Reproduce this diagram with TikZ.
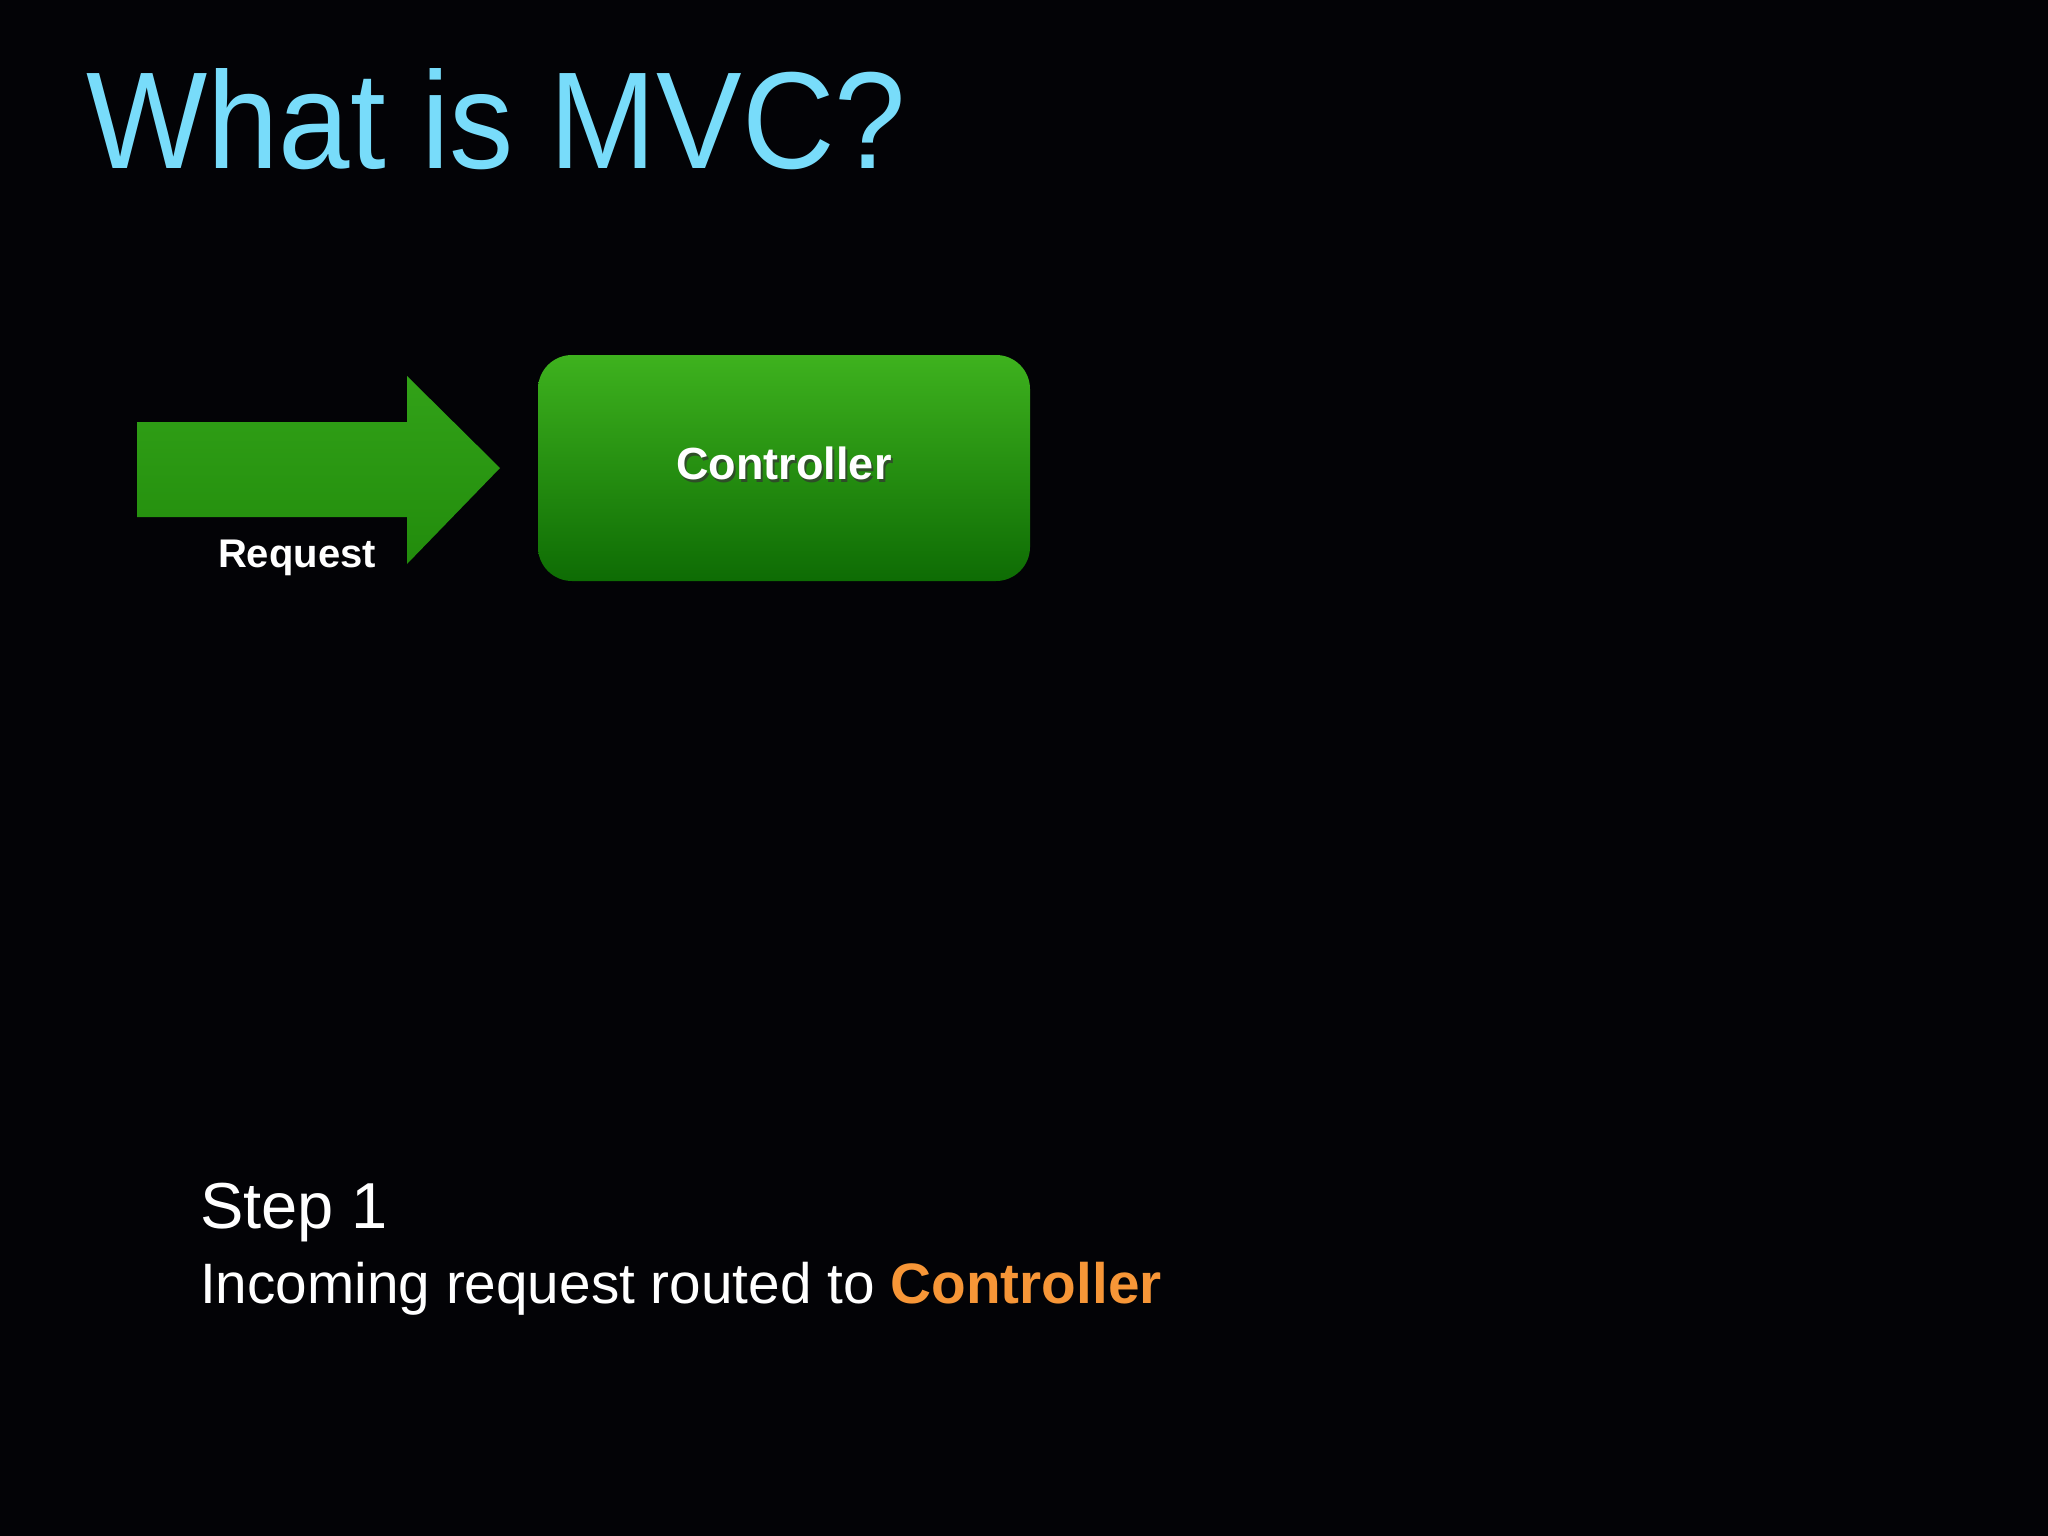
\documentclass[tikz,border=0pt]{standalone}
\usepackage{fontspec}
\setmainfont{Liberation Sans}
\usepackage{graphicx}
\definecolor{bgc}{RGB}{3,3,6}
\definecolor{titlec}{RGB}{120,220,250}
\definecolor{orangec}{RGB}{247,150,55}
\definecolor{gtop}{RGB}{62,178,30}
\definecolor{gbot}{RGB}{14,108,4}
\definecolor{atop}{RGB}{50,162,24}
\definecolor{abot}{RGB}{34,140,12}
\tikzset{
  lbl/.style={inner sep=0pt, text=white, font=\bfseries},
  ctrlbox/.style={rounded corners=34pt, top color=gtop, bottom color=gbot, draw=none, minimum width=492pt, minimum height=226pt, inner sep=0pt},
}
\begin{document}
\begin{tikzpicture}[x=1pt,y=-1pt]
\fill[bgc] (0,0) rectangle (2048,1536);
\useasboundingbox (0,0) rectangle (2048,1536);
% title
\node[anchor=base west, inner sep=0pt, text=titlec] (title) at (86,168)
  {\scalebox{0.93}[1]{\fontsize{138}{160}\selectfont What is MVC?}};
% arrow
\shade[top color=atop, bottom color=abot]
  (137,422) -- (407,422) -- (407,376) -- (500,468) -- (407,564) -- (407,517) -- (137,517) -- cycle;
% controller box
\node[ctrlbox] (ctrl) at (784,468) {};
\node[lbl, text=black!80, opacity=0.7] (ctrlshadow) at (786,466) {\fontsize{45}{54}\selectfont Controller};
\node[lbl] (ctrltext) at (784,463) {\fontsize{45}{54}\selectfont Controller};
% request label
\node[lbl, anchor=base] (req) at (297,567) {\fontsize{40}{48}\selectfont Request};
% step text
\node[anchor=base west, inner sep=0pt, text=white] (step) at (200,1228) {\fontsize{65}{78}\selectfont Step 1};
\node[anchor=base west, inner sep=0pt, text=white] (desc) at (200,1303)
  {\scalebox{0.995}[1]{\fontsize{57}{68}\selectfont Incoming request routed to \textcolor{orangec}{\bfseries Controller}}};
\end{tikzpicture}
\end{document}
